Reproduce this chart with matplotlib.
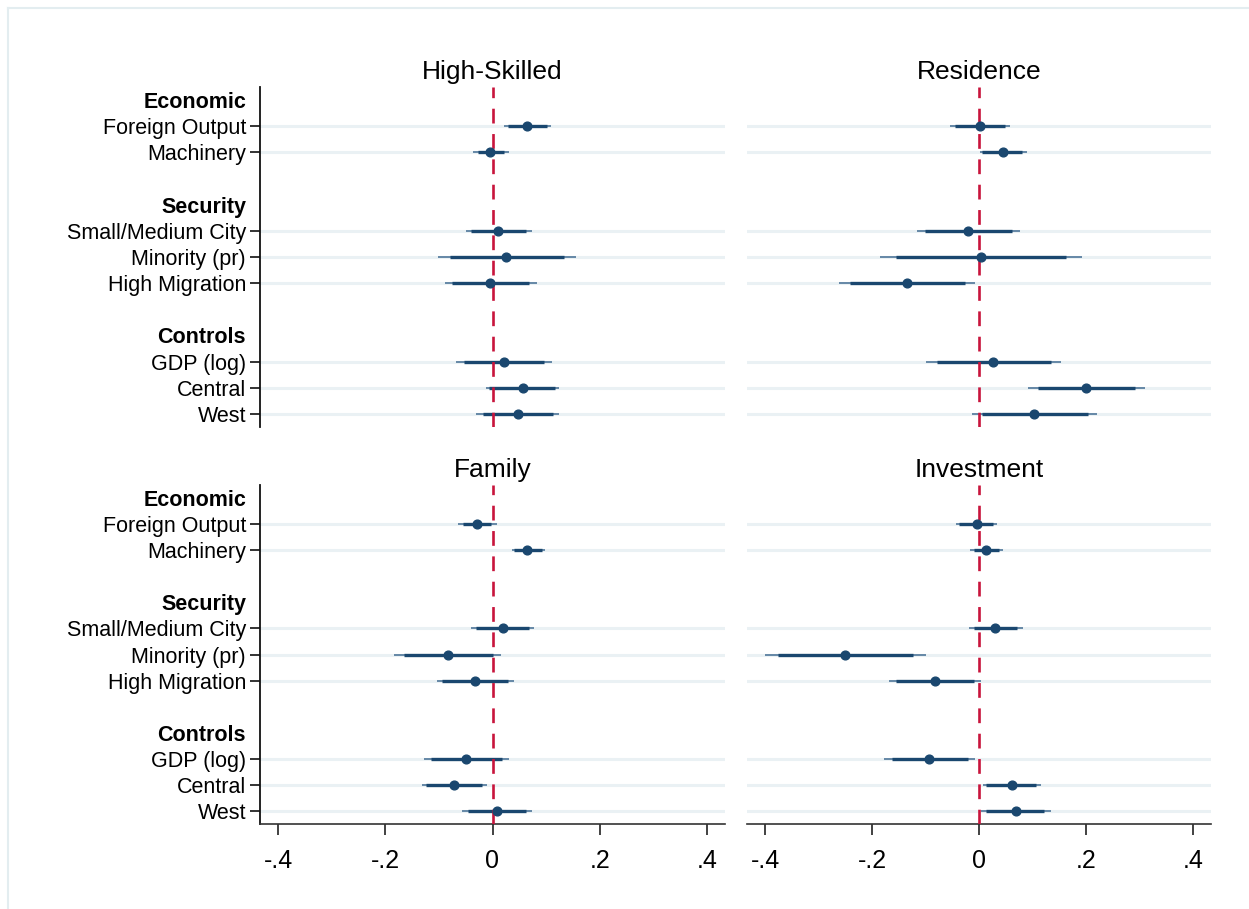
import numpy as np
import matplotlib.pyplot as plt
from matplotlib.lines import Line2D

plt.rcParams['font.family'] = ['Liberation Sans', 'DejaVu Sans']

# variable labels and group headers
labels = ['Foreign Output', 'Machinery', 'Small/Medium City', 'Minority (pr)',
          'High Migration', 'GDP (log)', 'Central', 'West']
groups = ['Economic', 'Security', 'Controls']
panels = ['High-Skilled', 'Residence', 'Family', 'Investment']

# point estimates, inner (thick) and outer (thin) intervals
hs_b    = [0.065, -0.004, 0.011, 0.026, -0.004, 0.021, 0.056, 0.047]
hs_lo_i = [0.029, -0.027, -0.040, -0.080, -0.075, -0.054, -0.006, -0.018]
hs_hi_i = [0.101, 0.022, 0.063, 0.134, 0.069, 0.097, 0.116, 0.113]
hs_lo_o = [0.021, -0.037, -0.049, -0.101, -0.089, -0.068, -0.013, -0.030]
hs_hi_o = [0.110, 0.030, 0.074, 0.155, 0.083, 0.111, 0.125, 0.124]

re_b    = [0.001, 0.045, -0.021, 0.004, -0.134, 0.027, 0.201, 0.103]
re_lo_i = [-0.045, 0.005, -0.101, -0.155, -0.241, -0.079, 0.111, 0.005]
re_hi_i = [0.049, 0.081, 0.061, 0.162, -0.027, 0.134, 0.291, 0.203]
re_lo_o = [-0.054, 0.002, -0.116, -0.186, -0.262, -0.100, 0.092, -0.014]
re_hi_o = [0.058, 0.089, 0.076, 0.193, -0.007, 0.154, 0.310, 0.221]

fa_b    = [-0.029, 0.065, 0.019, -0.083, -0.032, -0.049, -0.072, 0.009]
fa_lo_i = [-0.055, 0.041, -0.030, -0.166, -0.094, -0.114, -0.124, -0.046]
fa_hi_i = [-0.002, 0.093, 0.068, 0.001, 0.029, 0.018, -0.020, 0.063]
fa_lo_o = [-0.064, 0.036, -0.041, -0.183, -0.104, -0.127, -0.132, -0.057]
fa_hi_o = [0.008, 0.098, 0.078, 0.016, 0.040, 0.030, -0.011, 0.074]

iv_b    = [-0.004, 0.013, 0.030, -0.251, -0.082, -0.093, 0.061, 0.069]
iv_lo_i = [-0.037, -0.009, -0.010, -0.376, -0.155, -0.163, 0.014, 0.014]
iv_hi_i = [0.027, 0.038, 0.072, -0.124, -0.009, -0.020, 0.106, 0.122]
iv_lo_o = [-0.043, -0.016, -0.019, -0.401, -0.168, -0.177, 0.007, 0.003]
iv_hi_o = [0.034, 0.044, 0.082, -0.100, 0.003, -0.007, 0.116, 0.134]

data = [
    (hs_b, hs_lo_i, hs_hi_i, hs_lo_o, hs_hi_o),
    (re_b, re_lo_i, re_hi_i, re_lo_o, re_hi_o),
    (fa_b, fa_lo_i, fa_hi_i, fa_lo_o, fa_hi_o),
    (iv_b, iv_lo_i, iv_hi_i, iv_lo_o, iv_hi_o),
]

xticks = [-0.4, -0.2, 0, 0.2, 0.4]
xticklabels = ['-.4', '-.2', '0', '.2', '.4']

row_pos = [1, 2, 5, 6, 7, 10, 11, 12]
head_pos = [0, 4, 9]

navy = '#1a476f'
light_navy = '#5b7fa0'
red = '#c8143c'
grid_col = '#eaf1f4'

W, H = 1249, 909
fig = plt.figure(figsize=(W / 100, H / 100), dpi=100)

# outer light frame (top and left edges visible)
fig.add_artist(Line2D([8 / W, 1], [1 - 8 / H, 1 - 8 / H], color='#e3edf0', lw=1.5))
fig.add_artist(Line2D([8 / W, 8 / W], [0, 1 - 8 / H], color='#e3edf0', lw=1.5))

boxes = [(260, 87, 725, 427), (747, 87, 1211, 427),
         (260, 485, 725, 824), (747, 485, 1211, 824)]

for k, (x0, y0, x1, y1) in enumerate(boxes):
    ax = fig.add_axes([x0 / W, 1 - y1 / H, (x1 - x0) / W, (y1 - y0) / H])
    b, lo_i, hi_i, lo_o, hi_o = data[k]
    for y in row_pos:
        ax.axhline(y, color=grid_col, lw=2.2, zorder=0)
    ax.hlines(row_pos, lo_o, hi_o, color=light_navy, lw=1.3, zorder=2)
    ax.hlines(row_pos, lo_i, hi_i, color=navy, lw=2.4, zorder=3)
    ax.axvline(0, color=red, lw=1.9, ls=(0, (5.6, 4.0)), zorder=4)
    ax.plot(b, row_pos, 'o', color=navy, ms=6.3, zorder=5)

    ax.set_xlim(-0.434, 0.434)
    ax.set_ylim(12.5, -0.5)
    ax.set_title(panels[k], fontsize=19, pad=6)

    for s in ['top', 'right']:
        ax.spines[s].set_visible(False)
    ax.spines['left'].set_color('#111111')
    ax.spines['bottom'].set_color('#333333')
    ax.spines['left'].set_linewidth(1.3)
    ax.spines['bottom'].set_linewidth(1.2)

    if k % 2 == 0:
        pos = head_pos[:1] + row_pos[:2] + head_pos[1:2] + row_pos[2:5] + head_pos[2:] + row_pos[5:]
        lab = groups[:1] + labels[:2] + groups[1:2] + labels[2:5] + groups[2:] + labels[5:]
        ax.set_yticks(pos)
        ax.set_yticklabels(lab, fontsize=15.5)
        ax.tick_params(axis='y', length=7, width=1.2, color='#111111', pad=3)
        for t, name in zip(ax.yaxis.get_major_ticks(), lab):
            if name in groups:
                t.tick1line.set_visible(False)
                t.label1.set_fontweight('bold')
    else:
        ax.spines['left'].set_visible(False)
        ax.set_yticks([])

    if k >= 2:
        ax.set_xticks(xticks)
        ax.set_xticklabels(xticklabels, fontsize=18)
        ax.tick_params(axis='x', length=8, width=1.3, color='#333333', pad=10)
    else:
        ax.spines['bottom'].set_visible(False)
        ax.set_xticks([])

fig.savefig('out.png', dpi=100)
